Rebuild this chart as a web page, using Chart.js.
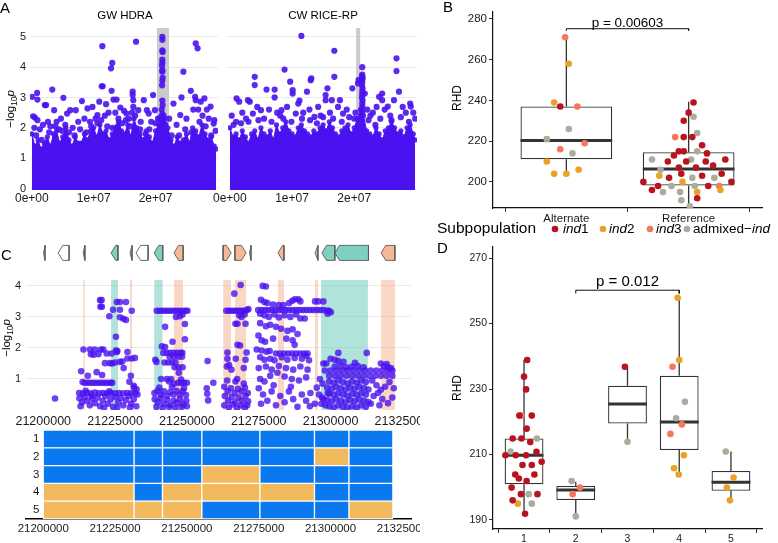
<!DOCTYPE html>
<html>
<head>
<meta charset="utf-8">
<title>RHD association figure</title>
<script src="https://cdn.jsdelivr.net/npm/chart.js@4.4.1/dist/chart.umd.min.js"></script>
<style>
  html, body { margin: 0; padding: 0; background: #fff; }
  body { width: 778px; height: 543px; position: relative; overflow: hidden; }
  canvas { position: absolute; }
</style>
</head>
<body>
<canvas id="manhattanGW" width="222" height="205" style="left:0px;top:0px"></canvas>
<canvas id="manhattanCW" width="216" height="205" style="left:205px;top:0px"></canvas>
<canvas id="boxAllele" width="353" height="224" style="left:425px;top:0px"></canvas>
<canvas id="genes" width="420" height="30" style="left:0px;top:240px"></canvas>
<canvas id="regionSnps" width="420" height="142" style="left:0px;top:272px"></canvas>
<canvas id="haplotypes" width="420" height="129" style="left:0px;top:414px"></canvas>
<canvas id="boxHaplo" width="353" height="325" style="left:425px;top:218px"></canvas>
<script>
// ---------- panel A: genome-wide scans (positions in Mb, -log10 p) ----------
const envPosMb = [0,0.5,1,1.5,2,2.5,3,3.5,4,4.5,5,5.5,6,6.5,7,7.5,8,8.5,9,9.5,10,10.5,11,11.5,12,12.5,13,13.5,14,14.5,15,15.5,16,16.5,17,17.5,18,18.5,19,19.5,20,20.5,21,21.5,22,22.5,23,23.5,24,24.5,25,25.5,26,26.5,27,27.5,28,28.5,29,29.5,29.8];
const gwEnvelope = [1.8,1.4,1.6,1.3,1.5,1.7,1.4,1.8,1.9,1.5,1.7,2.0,1.6,1.4,1.7,1.5,1.5,1.8,1.6,1.9,2.0,1.7,2.1,1.8,1.9,1.6,1.8,2.0,2.2,1.9,1.8,2.1,1.7,2.3,2.0,1.8,1.6,1.9,1.7,1.5,1.9,2.1,2.4,2.3,2.0,1.6,1.4,1.7,1.5,1.6,1.8,1.5,2.0,1.9,1.7,2.1,1.8,1.6,1.7,1.4,1.3];
const cwEnvelope = [2.0,1.7,1.8,1.6,1.9,1.7,1.5,1.8,1.9,1.6,2.0,1.8,1.7,1.9,1.6,2.1,1.8,2.0,2.2,1.9,1.8,1.7,2.0,2.1,1.9,1.8,1.7,1.9,1.8,2.0,2.1,1.9,2.2,2.0,1.8,1.7,1.9,2.0,2.1,1.8,2.0,2.3,2.6,2.4,1.9,1.8,1.7,2.0,1.8,1.6,1.9,2.0,2.2,2.0,1.8,1.9,1.7,2.0,2.1,1.8,1.6];
const gwSnps = [[0.05,3.02],[0.85,3.15],[0.9,2.93],[0.2,2.38],[0.5,2.34],[0.9,2.25],[0.4,2.0],[1.3,1.95],[1.8,2.1],[2.1,2.75],[2.3,2.75],[2.6,2.2],[3.0,2.05],[3.3,3.26],[3.6,2.58],[4.0,2.2],[4.4,1.95],[4.7,2.3],[5.1,2.99],[5.4,2.1],[5.7,2.47],[6.2,2.58],[6.6,2.0],[7.1,2.58],[7.5,2.2],[8.1,2.88],[8.5,2.3],[9.0,2.64],[9.4,2.2],[9.8,2.69],[10.3,2.3],[10.9,2.86],[11.3,3.37],[11.45,3.37],[11.4,4.69],[10.6,2.42],[11.8,2.4],[12.0,2.78],[12.4,2.5],[12.8,3.96],[13.0,4.14],[12.9,3.22],[13.2,2.93],[13.7,2.93],[13.5,2.5],[14.3,2.67],[14.0,2.3],[14.9,2.56],[15.3,2.47],[15.7,2.3],[16.3,3.19],[16.3,3.08],[16.4,2.91],[16.4,2.69],[16.2,2.5],[16.85,4.84],[16.7,2.4],[17.2,2.58],[17.6,2.2],[18.1,2.91],[18.6,2.58],[18.9,2.47],[19.3,2.2],[19.6,3.08],[19.9,2.58],[20.4,2.3],[21.1,5.0],[21.1,4.9],[21.1,4.55],[21.15,4.5],[21.1,4.25],[21.1,4.15],[21.05,4.05],[21.1,3.9],[21.1,3.85],[21.15,3.65],[21.1,3.55],[21.05,3.4],[21.1,2.9],[21.15,2.75],[21.0,2.6],[21.1,2.45],[21.3,2.4],[20.9,2.35],[21.6,2.1],[22.2,2.3],[22.9,2.8],[23.4,2.1],[24.0,2.42],[24.2,3.0],[24.5,3.85],[25.0,2.3],[25.7,3.22],[26.1,2.6],[26.4,3.02],[26.5,2.91],[26.5,4.78],[26.8,4.62],[26.9,2.6],[27.3,2.86],[27.9,2.97],[27.6,2.4],[28.3,2.6],[28.6,2.3],[28.9,2.7],[29.5,2.25],[29.4,2.14],[29.7,1.9],
  [0.7,1.75],[1.6,1.6],[2.8,1.85],[3.8,2.05],[4.9,1.9],[6.0,1.85],[6.9,1.75],[7.8,1.95],[8.8,1.85],[9.6,2.05],[10.6,2.15],[11.2,2.25],[12.2,2.05],[13.0,2.0],[13.9,2.05],[14.6,2.15],[15.2,2.25],[16.0,2.05],[17.5,1.95],[18.4,1.8],[19.0,1.95],[20.0,2.15],[20.7,2.3],[22.6,1.75],[23.8,1.75],[24.8,1.95],[25.8,1.85],[27.1,2.2],[28.1,2.05],[29.0,1.75]];
const cwSnps = [[0.3,2.4],[1.07,2.97],[1.5,2.86],[1.0,2.2],[2.0,2.5],[2.9,2.91],[3.2,2.86],[2.6,2.3],[4.0,3.68],[4.0,3.41],[3.7,2.47],[4.4,2.69],[5.0,2.58],[5.9,3.26],[5.5,2.3],[6.3,2.6],[7.2,3.26],[7.2,3.0],[7.6,2.5],[8.1,2.4],[8.8,3.92],[8.3,2.58],[9.2,2.69],[9.7,3.52],[10.1,3.24],[10.1,3.13],[10.6,2.47],[11.0,2.8],[11.5,5.03],[11.2,2.9],[11.8,2.5],[12.4,3.19],[13.0,3.57],[13.1,3.63],[12.8,2.6],[13.6,2.36],[14.2,2.69],[14.6,2.4],[15.4,2.91],[15.4,3.08],[15.7,3.3],[16.1,2.5],[16.8,4.54],[16.8,3.68],[16.4,2.91],[17.4,2.69],[17.7,2.91],[18.2,2.47],[18.8,2.6],[19.7,3.3],[20.2,2.5],[20.6,3.46],[20.7,3.57],[21.3,4.0],[21.3,3.75],[21.25,3.7],[21.35,3.65],[21.3,3.6],[21.3,3.5],[21.25,3.4],[21.35,3.3],[21.3,3.2],[21.3,3.1],[21.25,3.0],[21.35,2.9],[21.3,2.8],[21.3,2.7],[21.25,2.6],[21.3,2.5],[21.7,3.13],[22.1,2.6],[22.6,2.4],[23.0,2.5],[23.6,2.69],[24.0,3.02],[24.5,3.13],[24.5,2.91],[24.9,2.6],[25.4,2.7],[25.8,2.4],[26.8,4.29],[26.8,3.87],[27.2,3.19],[26.4,2.91],[27.8,2.69],[28.3,2.5],[29.0,2.8],[29.1,2.7],[29.5,2.5],[29.8,2.3],
  [0.6,2.1],[1.8,2.15],[3.0,2.2],[4.6,2.25],[6.7,2.2],[8.6,2.3],[9.9,2.2],[11.6,2.3],[12.9,2.25],[14.0,2.15],[15.0,2.35],[16.6,2.3],[18.0,2.2],[19.2,2.35],[20.0,2.3],[22.3,2.25],[23.4,2.1],[24.2,2.3],[26.0,2.25],[27.5,2.35],[28.8,2.2]];
const gwBandMb = [20.2, 22.2];
const cwBandMb = [20.3, 21.0];
const genomeTicks = [0, 1e7, 2e7];
const genomeTickLabels = ['0e+00', '1e+07', '2e+07'];

// ---------- panel B: RHD by allele ----------
const alleleNames = ['Alternate', 'Reference'];
const alleleLow = [204.3, 188], alleleQ1 = [211.1, 198.2], alleleMed = [220.3, 206.4], alleleQ3 = [237.0, 214.6], alleleHigh = [271.3, 239.4];
const alleleCat = [1,1,1,1,1,1,1,1,1,1,1,1,1,1, 2,2,2,2,2,2,2,2,2,2,2,2,2,2,2,2,2,2,2,2,2,2,2,2,2,2,2,2,2,2,2,2,2,2,2,2,2,2,2,2,2,2,2,2,2,2,2];
const alleleRHD = [271,258,239,237,237,226,221,219,216,214,210,206,204,204,
  239,234,232,230,224,222,222,222,218,215,215,215,214,213,211,211,211,210,210,210,208,207,207,206,204,204,203,203,202,202,202,200,200,200,198,198,198,198,198,196,196,195,195,195,192,191,188];
const alleleJitter = [-0.01,0.02,-0.10,-0.05,0.09,0.02,-0.16,0.15,-0.05,0.05,-0.16,0.10,-0.10,0.00,
  0.04,0.00,0.04,-0.04,0.07,-0.11,-0.04,0.03,0.11,-0.08,-0.04,0.07,0.15,-0.12,-0.30,0.02,0.30,-0.17,-0.02,0.14,0.20,-0.08,0.06,-0.23,-0.06,0.27,-0.24,0.11,-0.16,0.03,0.21,-0.37,-0.05,0.35,-0.25,-0.14,0.05,0.16,0.25,-0.30,0.26,-0.21,-0.07,0.07,0.07,-0.06,0.01];
const alleleSub = ['ind3','ind2','ind2','ind1','ind3','adm','adm','ind3','ind3','adm','ind2','ind2','ind2','ind2',
  'ind1','ind1','adm','ind1','adm','ind3','ind1','ind1','ind1','ind1','ind1','adm','ind1','ind1','adm','adm','ind1','ind1','ind1','ind1','ind1','ind1','ind1','adm','ind1','ind1','ind2','ind1','ind1','adm','adm','ind1','ind2','ind1','ind1','adm','adm','ind1','ind3','ind1','ind2','adm','adm','ind2','ind1','adm','adm'];

// ---------- panel C: candidate region (positions in kb after regionStart) ----------
const regionStart = 21200000;
const regionTicks = [21200000, 21225000, 21250000, 21275000, 21300000, 21325000];
const geneStartKb = [0.1,5.2,13.9,23.6,30.2,32.3,38.6,45.5,62.6,66.7,71.8,81.7,94.6,97.0,101.5,117.6];
const geneEndKb   = [0.6,9.0,14.5,26.0,30.9,36.5,41.6,48.7,65.4,70.6,72.3,83.8,95.6,101.5,113.2,122.4];
const geneStrand  = [-1,-1,-1,-1,-1,-1,-1,-1,1,1,-1,-1,-1,-1,-1,-1];
const geneGroup   = ['none','none','salmon','teal','salmon','none','teal','salmon','salmon','salmon','none','salmon','salmon','teal','teal','salmon'];
const salmonBandsKb = [[13.9,14.5],[30.2,30.9],[45.5,48.7],[62.6,65.4],[66.7,70.6],[81.7,83.8],[94.6,95.6],[117.6,122.4]];
const tealBandsKb = [[23.6,26.0],[38.6,41.6],[96.7,113.0]];
const snpsLoose = [[4.1,0.37],[57.2,1.58],[59.2,0.88],[56.9,0.7],[57.1,0.52],[57.4,0.31]];
const snpsBlock1 = [[19.8,3.54],[20.3,3.54],[19.9,3.33],[20.4,3.33],[25.6,3.48],[26.7,3.48],[28.8,3.48],[24.3,3.23],[26.7,3.23],[30.8,3.2],[23.0,3.02],[26.7,2.99],[27.9,2.94],[28.8,2.9],[25.3,2.36],
  [14.0,1.95],[16.3,1.95],[18.0,1.95],[20.1,1.95],[20.9,1.95],[25.3,1.92],[25.8,1.9],[16.6,1.8],[19.2,1.8],[22.1,1.82],[23.8,1.82],[25.6,1.87],[29.3,1.87],[17.5,1.78],
  [21.5,1.51],[23.2,1.51],[25.0,1.53],[26.7,1.55],[29.3,1.66],[30.8,1.66],[31.9,1.68],[24.0,1.5],[27.5,1.56],[18.6,1.22],[13.2,1.25],[15.5,1.1],[20.5,1.13],[28.0,1.35],[30.5,1.1],
  [13.7,0.9],[14.5,0.875],[15.5,0.875],[16.5,0.875],[17.5,0.875],[18.5,0.875],[19.5,0.875],[20.5,0.875],[21.5,0.875],[22.5,0.875],[23.5,0.875],[24.0,0.88],[30.0,0.91],[31.5,0.78],
  [12.5,0.55],[13.8,0.54],[15.2,0.55],[16.6,0.54],[18.0,0.56],[19.4,0.54],[20.8,0.55],[22.2,0.54],[23.6,0.55],[25.0,0.54],[26.4,0.55],[27.8,0.54],[29.2,0.55],[30.6,0.54],[32.0,0.55],[32.8,0.5],
  [12.6,0.38],[13.5,0.25],[14.4,0.42],[15.3,0.3],[16.2,0.15],[17.1,0.36],[18.0,0.22],[18.9,0.4],[19.8,0.12],[20.7,0.3],[21.6,0.45],[22.5,0.2],[23.4,0.35],[24.3,0.1],[25.2,0.42],[26.1,0.25],[27.0,0.38],[27.9,0.15],[28.8,0.32],[29.7,0.45],[30.6,0.2],[31.5,0.35],[32.4,0.12],[13.0,0.12],[16.8,0.45],[21.2,0.08],[25.8,0.08],[30.2,0.08],[23.0,0.6],[14.8,0.62],[32.5,0.67],[31.6,0.72]];
const snpsBlock2 = [[39.5,3.2],[40.5,3.2],[41.5,3.2],[42.5,3.2],[43.5,3.2],[44.5,3.2],[45.5,3.2],[46.5,3.2],[47.5,3.2],[48.5,3.2],[49.5,3.2],[50.2,3.2],
  [46.2,3.0],[47.6,3.02],[48.5,3.08],[42.4,2.68],[49.3,2.77],[49.3,2.28],[45.0,2.2],[41.3,2.05],[42.4,2.03],
  [41.8,1.84],[43.0,1.84],[44.2,1.84],[45.4,1.84],[46.6,1.84],[47.8,1.84],[48.4,1.84],[44.0,1.72],[45.5,1.72],[47.0,1.72],[48.3,1.72],[39.0,1.62],[39.4,1.55],
  [42.2,1.53],[43.5,1.53],[44.8,1.53],[46.0,1.53],[45.7,1.38],[47.0,1.38],[48.5,1.38],[47.2,1.2],[41.0,1.0],[43.0,1.0],[44.5,1.0],[43.8,0.92],[45.5,0.85],[48.0,0.98],
  [47.0,0.875],[48.0,0.875],[49.0,0.875],[50.0,0.875],
  [38.7,0.55],[39.8,0.62],[40.9,0.5],[42.0,0.6],[43.1,0.45],[44.2,0.58],[45.3,0.5],[46.4,0.62],[47.5,0.5],[48.6,0.6],[49.7,0.48],
  [38.8,0.35],[39.9,0.25],[41.0,0.38],[42.1,0.2],[43.2,0.32],[44.3,0.15],[45.4,0.3],[46.5,0.22],[47.6,0.35],[48.7,0.18],[49.8,0.3],
  [39.4,0.1],[41.6,0.08],[43.8,0.1],[46.0,0.06],[48.2,0.1],[50.0,0.12],[40.4,0.72],[44.8,0.75],[49.0,0.7]];
const snpsBlock3 = [[68.7,4.03],[66.5,3.75],[63.7,3.2],[64.6,3.2],[65.5,3.2],[66.4,3.2],[67.3,3.2],[68.2,3.2],[69.1,3.2],[70.0,3.2],[70.9,3.22],[71.4,3.25],
  [68.2,3.05],[69.0,3.0],[70.1,3.08],[66.9,2.78],[67.6,2.78],[70.4,2.78],[67.6,2.1],[68.5,2.08],[64.1,1.85],[70.8,1.85],[64.1,1.65],[67.0,1.65],[70.4,1.62],[63.9,1.4],[64.7,1.45],[69.8,1.35],[65.5,1.3],
  [64.0,0.95],[66.9,0.92],[67.5,1.0],[69.8,0.85],
  [63.0,0.75],[64.2,0.6],[65.4,0.7],[66.6,0.55],[67.8,0.68],[69.0,0.6],[70.2,0.72],[71.2,0.55],
  [63.2,0.45],[64.4,0.3],[65.6,0.42],[66.8,0.25],[68.0,0.4],[69.2,0.3],[70.4,0.45],[71.3,0.28],
  [63.0,0.15],[64.6,0.08],[66.0,0.18],[67.4,0.06],[68.8,0.15],[70.2,0.08],[71.0,0.15]];
const snpsBlock4 = [[76.4,4.0],[77.5,3.98],[75.8,3.55],[77.0,3.48],[78.0,3.45],[80.0,3.4],[82.0,3.38],[83.6,3.38],[85.6,3.45],[86.7,3.52],[87.6,3.57],[88.8,3.57],[89.5,3.5],[94.6,3.5],[95.7,3.5],[97.5,3.5],
  [74.8,3.22],[76.0,3.22],[77.2,3.22],[78.4,3.22],[79.6,3.22],[80.8,3.22],[82.0,3.22],[83.2,3.22],[84.4,3.22],[85.6,3.22],[86.8,3.22],[88.0,3.22],[89.2,3.22],[90.4,3.22],[91.6,3.22],[92.8,3.22],[94.0,3.22],[95.2,3.22],[96.4,3.22],[97.6,3.22],[98.8,3.2],
  [75.5,3.1],[77.0,3.05],[78.5,3.0],[80.5,3.08],[82.0,2.98],[84.0,3.05],[86.0,3.0],[88.0,3.08],[89.5,2.95],[91.0,2.95],
  [75.5,2.8],[77.5,2.7],[79.0,2.75],[81.0,2.68],[82.8,2.62],[85.0,2.55],[86.8,2.6],[88.5,2.45],
  [74.9,2.4],[76.0,2.25],[77.2,2.2],[84.6,2.3],[86.8,2.25],[87.5,2.1],[80.0,2.3],
  [74.3,1.95],[76.0,1.92],[77.7,1.88],[78.8,1.9],[81.0,1.82],[82.4,1.82],[83.8,1.82],[85.2,1.82],[86.6,1.82],[88.0,1.82],[89.4,1.82],[90.8,1.82],[92.0,1.82],
  [75.5,1.7],[77.0,1.62],[79.0,1.65],[80.5,1.6],[83.0,1.7],[85.0,1.62],[87.5,1.68],[90.0,1.65],[92.5,1.6],[91.5,1.75],
  [75.0,1.35],[77.5,1.4],[79.5,1.3],[82.0,1.42],[84.5,1.35],[87.0,1.3],[89.5,1.4],[92.0,1.3],
  [75.5,1.0],[77.0,0.92],[79.0,1.1],[81.5,1.2],[84.0,1.08],[86.5,1.0],[89.0,0.95],[91.5,1.05],
  [75.0,0.7],[76.5,0.5],[78.0,0.3],[79.5,0.6],[81.0,0.15],[82.5,0.45],[84.0,0.25],[85.5,0.6],[87.0,0.35],[88.5,0.1],[90.0,0.5],[91.5,0.3],[93.0,0.55],[94.5,0.2],[96.0,0.5],[97.5,0.35],[99.0,0.55],[75.8,0.2],[80.2,0.8],[86.2,0.75],[92.8,0.12],[98.2,0.15],[95.2,0.72]];
const snpsBlock5 = [[99.5,3.2],[100.1,3.15],[99.0,3.1],[102.7,1.84],[112.6,1.84],[100.0,1.65],[101.5,1.62],[102.7,1.58],[97.5,1.5],[98.5,1.5],
  [98,1.27],[100,1.27],[102,1.27],[104,1.27],[106,1.27],[108,1.27],[110,1.27],[112,1.27],[114,1.27],[116,1.27],[118,1.27],[120,1.27],[121.5,1.27],
  [117.5,1.5],[118.6,1.42],[120.0,1.38],[121.0,1.35],[119.5,1.48],
  [101.5,1.4],[103.5,1.42],[105.5,1.38],[107.5,1.4],[109.5,1.42],[111.5,1.38],[104.5,1.55],[108.5,1.52],
  [99.5,1.1],[101.5,1.1],[103.5,1.1],[105.5,1.1],[107.5,1.1],[109.5,1.1],[111.5,1.1],[113.5,1.1],[115.5,1.1],[117.5,1.1],[119.5,1.1],[121.5,1.1],
  [99.5,0.92],[101.1,0.88],[102.7,0.95],[104.3,0.9],[105.9,0.85],[107.5,0.92],[109.1,0.88],[110.7,0.95],[112.3,0.9],
  [98.8,0.72],[100.4,0.68],[102.0,0.75],[103.6,0.7],[105.2,0.65],[106.8,0.72],[108.4,0.68],[110.0,0.75],[111.6,0.7],[113.2,0.66],
  [99.5,0.52],[101.1,0.48],[102.7,0.55],[104.3,0.5],[105.9,0.45],[107.5,0.52],[109.1,0.48],[110.7,0.55],[112.3,0.5],
  [98.8,0.32],[100.4,0.28],[102.0,0.35],[103.6,0.3],[105.2,0.25],[106.8,0.32],[108.4,0.28],[110.0,0.35],[111.6,0.3],[113.2,0.26],
  [99.5,0.12],[101.1,0.08],[102.7,0.15],[104.3,0.1],[105.9,0.06],[107.5,0.12],[109.1,0.08],[110.7,0.15],[112.3,0.1],
  [114.5,0.95],[116.0,0.8],[117.5,0.65],[119.0,0.75],[120.5,0.9],[122.0,0.7],[115.0,0.45],[118.0,0.35],[121.5,0.4],[114.0,0.2],[117.0,0.15],[120.0,0.22],[116.5,0.55],
  [96.3,1.0],[97.2,0.85],[97.0,0.4],[96.8,0.2]];
const haploRows = ['1', '2', '3', '4', '5'];
const haploEdges = [21200000, 21231600, 21241500, 21255200, 21275400, 21294400, 21306400, 21321700];
// 1 = reference allele block (blue), 0 = alternate (orange)
const haploBlocks = [
  [1,1,1,1,1,1,1],
  [1,1,1,1,1,0,1],
  [1,1,1,0,1,1,1],
  [0,1,0,0,0,1,1],
  [0,0,0,1,1,1,0]
];

// ---------- panel D: RHD by haplotype ----------
const haploLow = [191.8,191.0,213.9,204.0,196.1], haploQ1 = [200.9,196.1,219.5,211.4,198.9], haploMed = [209.8,199.2,225.4,219.9,201.5], haploQ3 = [214.9,200.4,231.0,234.1,205.0], haploHigh = [238.9,201.7,236.8,257.9,210.9];
const haploCat = [1,1,1,1,1,1,1,1,1,1,1,1,1,1,1,1,1,1,1,1,1,1,1,1,1,1,1,1,1,1,1, 2,2,2,2, 3,3, 4,4,4,4,4,4,4,4,4,4, 5,5,5,5];
const haploRHD = [238.9,233.8,229.9,221.9,221.9,221.9,217.9,214.9,214.9,214.9,213.8,210.9,210.8,209.8,209.8,209.8,207.8,206.8,206.8,203.9,203.9,202.7,201.9,199.9,197.9,197.9,197.9,196.0,195.0,195.0,191.9,
  201.9,199.9,197.9,191.1, 236.8,213.9, 257.9,238.9,236.8,226.1,221.1,219.2,216.3,209.8,205.8,203.9, 210.9,203.0,199.9,196.0];
const haploJitter = [0.06,0.00,0.04,-0.09,-0.05,0.15,0.05,-0.22,-0.05,0.25,0.12,-0.26,0.24,-0.36,-0.16,0.04,0.34,-0.03,0.15,-0.17,0.20,-0.10,0.05,-0.24,-0.06,0.09,0.26,-0.22,-0.12,0.15,0.02,
  -0.08,0.08,-0.06,0.00, -0.05,0.00, -0.03,0.00,-0.13,0.11,-0.06,0.05,-0.17,0.09,-0.10,-0.01, -0.10,0.05,-0.08,-0.02];
const haploSub = ['ind1','ind1','ind1','ind1','ind3','ind1','ind1','ind1','ind1','adm','ind1','adm','ind1','ind1','ind1','ind1','ind1','ind1','ind1','ind1','ind1','ind1','ind1','ind1','ind1','adm','ind1','ind1','ind2','adm','ind1',
  'adm','ind3','ind3','adm', 'ind1','adm', 'ind2','ind2','ind3','adm','adm','ind3','ind3','ind2','ind2','ind2', 'adm','ind2','ind2','ind2'];

const subpops = [
  { key: 'ind1', color: '#b8141f' },
  { key: 'ind2', color: '#e9a126' },
  { key: 'ind3', color: '#f8765c' },
  { key: 'adm', color: '#a9ad9c' }
];

const purple = 'rgba(74,18,240,0.9)';
const purpleSoft = 'rgba(74,18,240,0.8)';
const fontStack = '"Liberation Sans", Arial, Helvetica, sans-serif';

Chart.defaults.font.family = fontStack;
Chart.defaults.font.size = 11;
Chart.defaults.color = '#1a1a1a';
Chart.defaults.animation = false;
Chart.defaults.events = [];
Chart.defaults.plugins.legend.display = false;
Chart.defaults.plugins.tooltip.enabled = false;

// draws labels, titles and legend keys; runs = [[text, style]] with style '', 'i' or 'sub'
function textLayer(items) {
  return {
    id: 'textLayer',
    afterDraw(chart) {
      const ctx = chart.ctx;
      items.forEach(it => {
        let x = it.x, y = it.y;
        if (it.at) {
          x = chart.scales.x.getPixelForValue(it.at[0]);
          y = chart.scales.y.getPixelForValue(it.at[1]);
        }
        ctx.save();
        if (it.dot) {
          ctx.beginPath();
          ctx.arc(x, y, it.dot, 0, Math.PI * 2);
          ctx.fillStyle = it.color;
          ctx.fill();
          ctx.restore();
          return;
        }
        ctx.translate(x, y);
        if (it.rotate) ctx.rotate(it.rotate * Math.PI / 180);
        ctx.fillStyle = it.color || '#000';
        ctx.textBaseline = 'middle';
        ctx.textAlign = 'left';
        const size = it.size || 11;
        const runs = it.runs || [[it.text, '']];
        const fontFor = st => (st === 'i' ? 'italic ' : '') + (st === 'sub' ? size * 0.72 : size) + 'px ' + fontStack;
        let total = 0;
        runs.forEach(r => { ctx.font = fontFor(r[1]); total += ctx.measureText(r[0]).width; });
        let cx = it.align === 'center' ? -total / 2 : (it.align === 'right' ? -total : 0);
        runs.forEach(r => {
          ctx.font = fontFor(r[1]);
          ctx.fillText(r[0], cx, r[1] === 'sub' ? size * 0.3 : 0);
          cx += ctx.measureText(r[0]).width;
        });
        ctx.restore();
      });
    }
  };
}

function fixedTicks(values) {
  return s => { s.ticks = values.map(v => ({ value: v })); };
}
function fixWidth(w) {
  return s => { s.width = w; s.paddingTop = 0; s.paddingBottom = 0; };
}
function fixHeight(h) {
  return s => { s.height = h; s.paddingLeft = 0; s.paddingRight = 0; };
}

// ---------- panel A ----------
function manhattan(id, envelope, snps, band, showY, pad, items) {
  new Chart(document.getElementById(id), {
    type: 'scatter',
    data: {
      datasets: [
        { type: 'line', data: [{ x: band[0] * 1e6, y: 5.29 }, { x: band[1] * 1e6, y: 5.29 }], fill: 'start',
          backgroundColor: '#cbcbcb', borderWidth: 0, pointRadius: 0, order: 3 },
        { type: 'line', data: envelope.map((v, i) => ({ x: envPosMb[i] * 1e6, y: v })), fill: 'start',
          backgroundColor: '#4a12f0', borderColor: '#4a12f0', borderWidth: 1, pointRadius: 2.6,
          pointBackgroundColor: purple, pointBorderWidth: 0, order: 2 },
        { data: snps.map(p => ({ x: p[0] * 1e6, y: p[1] })), pointRadius: 3.1,
          backgroundColor: purple, borderWidth: 0, order: 1 }
      ]
    },
    options: {
      responsive: false,
      layout: { padding: pad },
      scales: {
        x: { type: 'linear', min: -3e5, max: 3.01e7, afterBuildTicks: fixedTicks(genomeTicks),
          grid: { display: false, drawTicks: false }, border: { display: false },
          ticks: { callback: v => genomeTickLabels[genomeTicks.indexOf(v)], font: { size: 12 }, padding: 1,
            maxRotation: 0, autoSkip: false, color: '#1a1a1a' },
          afterFit: fixHeight(15) },
        y: { min: -0.05, max: 5.29, afterBuildTicks: fixedTicks([0, 1, 2, 3, 4, 5]),
          grid: { color: '#e4e4e4', drawTicks: false, lineWidth: 0.8 }, border: { display: false },
          ticks: { display: showY, padding: 4, font: { size: 11 }, color: '#1a1a1a' },
          afterFit: fixWidth(showY ? 30 : 0) }
      }
    },
    plugins: [textLayer(items)]
  });
}

manhattan('manhattanGW', gwEnvelope, gwSnps, gwBandMb, true, { left: 0, right: 2, top: 28, bottom: 0 }, [
  { text: 'A', x: 0, y: 9, size: 15 },
  { text: 'GW HDRA', x: 125, y: 16, size: 11.5, align: 'center' },
  { runs: [['\u2212log', ''], ['10', 'sub'], ['p', 'i']], x: 11, y: 109, rotate: -90, size: 11.5, align: 'center' }
]);
manhattan('manhattanCW', cwEnvelope, cwSnps, cwBandMb, false, { left: 23, right: 3, top: 28, bottom: 0 }, [
  { text: 'CW RICE-RP', x: 118, y: 16, size: 11.5, align: 'center' }
]);

// ---------- panels B and D ----------
const boxHalf = 0.375;
function boxPanel(id, o) {
  const n = o.names.length;
  const datasets = [];
  datasets.push({ type: 'bar', data: o.q1.map((q, i) => ({ x: i + 1, y: [q, o.q3[i]] })),
    backgroundColor: '#fff', borderColor: '#333', borderWidth: 1.3, borderSkipped: false,
    barPercentage: 0.75, categoryPercentage: 1, order: 5 });
  const whiskers = [];
  o.q1.forEach((q, i) => {
    whiskers.push({ x: i + 1, y: o.q3[i] }, { x: i + 1, y: o.hi[i] }, { x: i + 1, y: null },
      { x: i + 1, y: q }, { x: i + 1, y: o.lo[i] }, { x: i + 1, y: null });
  });
  datasets.push({ type: 'line', data: whiskers, borderColor: '#333', borderWidth: 1.3, pointRadius: 0, fill: false, order: 4 });
  const medians = [];
  o.med.forEach((m, i) => { medians.push({ x: i + 1 - boxHalf, y: m }, { x: i + 1 + boxHalf, y: m }, { x: i + 1, y: null }); });
  datasets.push({ type: 'line', data: medians, borderColor: '#333', borderWidth: 3, pointRadius: 0, fill: false, order: 3 });
  subpops.forEach(sp => {
    const pts = [];
    o.sub.forEach((s, k) => { if (s === sp.key) pts.push({ x: o.cat[k] + o.jit[k], y: o.val[k] }); });
    datasets.push({ data: pts, backgroundColor: sp.color, pointRadius: 3.3, borderWidth: 0, order: 1 });
  });
  const b = o.bracket;
  datasets.push({ type: 'line', data: [{ x: b[0], y: b[2] - b[3] }, { x: b[0], y: b[2] }, { x: b[1], y: b[2] }, { x: b[1], y: b[2] - b[3] }],
    borderColor: '#111', borderWidth: 1, pointRadius: 0, fill: false, order: 1 });

  new Chart(document.getElementById(id), {
    type: 'scatter',
    data: { datasets },
    options: {
      responsive: false,
      layout: { padding: { left: 0, right: 16, top: o.top, bottom: 0 } },
      scales: {
        x: { type: 'linear', min: 0.4, max: n + 0.6, offset: false,
          afterBuildTicks: fixedTicks(o.names.map((c, i) => i + 1)),
          ticks: { callback: v => o.names[v - 1], padding: 0, font: { size: o.xFont }, color: '#1a1a1a', maxRotation: 0, autoSkip: false },
          grid: { display: true, drawOnChartArea: false, drawTicks: true, tickLength: 4, color: '#333', lineWidth: 1 },
          border: { display: true, color: '#111', width: 1.2 },
          afterFit: fixHeight(o.xh) },
        y: { min: o.ymin, max: o.ymax, afterBuildTicks: fixedTicks(o.yticks),
          ticks: { padding: 2, font: { size: o.yFont }, color: '#1a1a1a' },
          grid: { display: true, drawOnChartArea: false, drawTicks: true, tickLength: 4, color: '#333', lineWidth: 1 },
          border: { display: true, color: '#111', width: 1.2 },
          afterFit: fixWidth(68) }
      }
    },
    plugins: [textLayer(o.items)]
  });
}

boxPanel('boxAllele', {
  names: alleleNames, lo: alleleLow, q1: alleleQ1, med: alleleMed, q3: alleleQ3, hi: alleleHigh,
  cat: alleleCat, val: alleleRHD, jit: alleleJitter, sub: alleleSub,
  bracket: [1, 2, 275.2, 1.0], top: 12, xh: 16, ymin: 187.2, ymax: 283.4,
  yticks: [200, 220, 240, 260, 280], xFont: 11.5, yFont: 11.5,
  items: [
    { text: 'B', x: 18, y: 8, size: 15 },
    { text: 'RHD', x: 33, y: 98, rotate: -90, size: 12, align: 'center' },
    { text: 'p = 0.00603', at: [1.5, 277.8], size: 13.5, align: 'center' }
  ]
});

boxPanel('boxHaplo', {
  names: haploRows, lo: haploLow, q1: haploQ1, med: haploMed, q3: haploQ3, hi: haploHigh,
  cat: haploCat, val: haploRHD, jit: haploJitter, sub: haploSub,
  bracket: [2, 4, 260.2, 1.0], top: 29, xh: 14, ymin: 187.25, ymax: 273.4,
  yticks: [190, 210, 230, 250, 270], xFont: 10.5, yFont: 10.5,
  items: [
    { text: 'Subpopulation', x: 12, y: 11, size: 15.5 },
    { dot: 3.3, x: 130, y: 11, color: subpops[0].color },
    { runs: [['ind', 'i'], ['1', '']], x: 138, y: 11, size: 13.5 },
    { dot: 3.3, x: 178, y: 11, color: subpops[1].color },
    { runs: [['ind', 'i'], ['2', '']], x: 184, y: 11, size: 13.5 },
    { dot: 3.3, x: 225, y: 11, color: subpops[2].color },
    { runs: [['ind', 'i'], ['3', '']], x: 231, y: 11, size: 13.5 },
    { dot: 3.3, x: 262, y: 11, color: subpops[3].color },
    { runs: [['admixed\u2212', ''], ['ind', 'i']], x: 268, y: 11, size: 13.5 },
    { text: 'D', x: 12, y: 31, size: 15 },
    { text: 'RHD', x: 33, y: 170, rotate: -90, size: 12, align: 'center' },
    { text: 'p = 0.012', at: [3, 262.7], size: 15, align: 'center' }
  ]
});

// ---------- panel C ----------
const regionMin = 21194000, regionMax = 21328000;
const geneFill = { teal: '#7fd0c1', salmon: '#f6b998', none: '#ffffff' };
const headKb = 1.6;
const geneTop = 0.82, geneBottom = 0.32, geneMid = 0.57;
const bp = kb => regionStart + kb * 1000;

const geneSets = geneStartKb.map((s, i) => {
  const e = geneEndKb[i];
  const h = Math.min(headKb, e - s);
  const pts = geneStrand[i] < 0
    ? [[s, geneMid], [s + h, geneTop], [e, geneTop], [e, geneBottom], [s + h, geneBottom], [s, geneMid]]
    : [[e, geneMid], [e - h, geneTop], [s, geneTop], [s, geneBottom], [e - h, geneBottom], [e, geneMid]];
  return { data: pts.map(p => ({ x: bp(p[0]), y: p[1] })), fill: 'shape', backgroundColor: geneFill[geneGroup[i]],
    borderColor: '#5a5a5a', borderWidth: 0.9, pointRadius: 0, tension: 0 };
});

new Chart(document.getElementById('genes'), {
  type: 'line',
  data: { datasets: geneSets },
  options: {
    responsive: false,
    layout: { padding: { left: 26, right: 9, top: 0, bottom: 0 } },
    scales: {
      x: { type: 'linear', min: regionMin, max: regionMax, display: false },
      y: { min: 0, max: 1, display: false }
    }
  },
  plugins: [textLayer([{ text: 'C', x: 1, y: 16, size: 15 }])]
});

const bandTop = 4.19;
const bandSets = salmonBandsKb.map(b => ({ c: 'rgba(246,180,148,0.55)', b }))
  .concat(tealBandsKb.map(b => ({ c: 'rgba(112,204,188,0.55)', b })))
  .map(o => ({ type: 'line', data: [{ x: bp(o.b[0]), y: bandTop }, { x: bp(o.b[1]), y: bandTop }], fill: 'start',
    backgroundColor: o.c, borderWidth: 0, pointRadius: 0, order: 2 }));
const allSnps = [].concat(snpsLoose, snpsBlock1, snpsBlock2, snpsBlock3, snpsBlock4, snpsBlock5);

// association track; its position labels are drawn by the haplotype chart's top axis
new Chart(document.getElementById('regionSnps'), {
  type: 'scatter',
  data: {
    datasets: bandSets.concat([{ data: allSnps.map(p => ({ x: bp(p[0]), y: p[1] })), pointRadius: 3.3,
      backgroundColor: purpleSoft, borderWidth: 0, order: 1 }])
  },
  options: {
    responsive: false,
    layout: { padding: { left: 0, right: 9, top: 8, bottom: 0 } },
    scales: {
      x: { type: 'linear', min: regionMin, max: regionMax, display: false },
      y: { min: 0, max: bandTop, afterBuildTicks: fixedTicks([1, 2, 3, 4]),
        ticks: { padding: 5, font: { size: 11 }, color: '#1a1a1a' },
        grid: { color: '#e4e4e4', drawTicks: false, lineWidth: 0.8 }, border: { display: false },
        afterFit: fixWidth(26) }
    }
  },
  plugins: [textLayer([{ runs: [['\u2212log', ''], ['10', 'sub'], ['p', 'i']], x: 7, y: 66, rotate: -90, size: 11.5, align: 'center' }])]
});

const refBlue = '#0a79f0', altOrange = '#f2ba5c';
new Chart(document.getElementById('haplotypes'), {
  type: 'bar',
  data: {
    labels: haploRows,
    datasets: haploEdges.slice(0, -1).map((start, j) => ({
      data: haploBlocks.map(() => [start, haploEdges[j + 1]]),
      backgroundColor: haploBlocks.map(r => (r[j] ? refBlue : altOrange)),
      borderColor: '#fff', borderWidth: 1, borderSkipped: false,
      barPercentage: 1, categoryPercentage: 1, grouped: false
    }))
  },
  options: {
    responsive: false,
    indexAxis: 'y',
    layout: { padding: { left: 0, right: 9, top: 0, bottom: 0 } },
    scales: {
      x: { type: 'linear', min: regionMin, max: regionMax, afterBuildTicks: fixedTicks(regionTicks),
        ticks: { callback: v => String(v), font: { size: 11.5 }, padding: 3, maxRotation: 0, autoSkip: false, color: '#1a1a1a' },
        grid: { display: false, drawTicks: false }, border: { display: true, color: '#000', width: 1.5 },
        afterFit: fixHeight(24) },
      xTop: { type: 'linear', position: 'top', min: regionMin, max: regionMax, afterBuildTicks: fixedTicks(regionTicks),
        ticks: { callback: v => String(v), font: { size: 12.5 }, padding: 1, maxRotation: 0, autoSkip: false, color: '#1a1a1a' },
        grid: { display: false, drawTicks: false }, border: { display: false },
        afterFit: fixHeight(16) },
      y: { ticks: { mirror: true, padding: 7, font: { size: 11.5 }, color: '#1a1a1a' },
        grid: { display: false, drawTicks: false }, border: { display: false },
        afterFit: fixWidth(26) }
    }
  }
});
</script>
</body>
</html>
